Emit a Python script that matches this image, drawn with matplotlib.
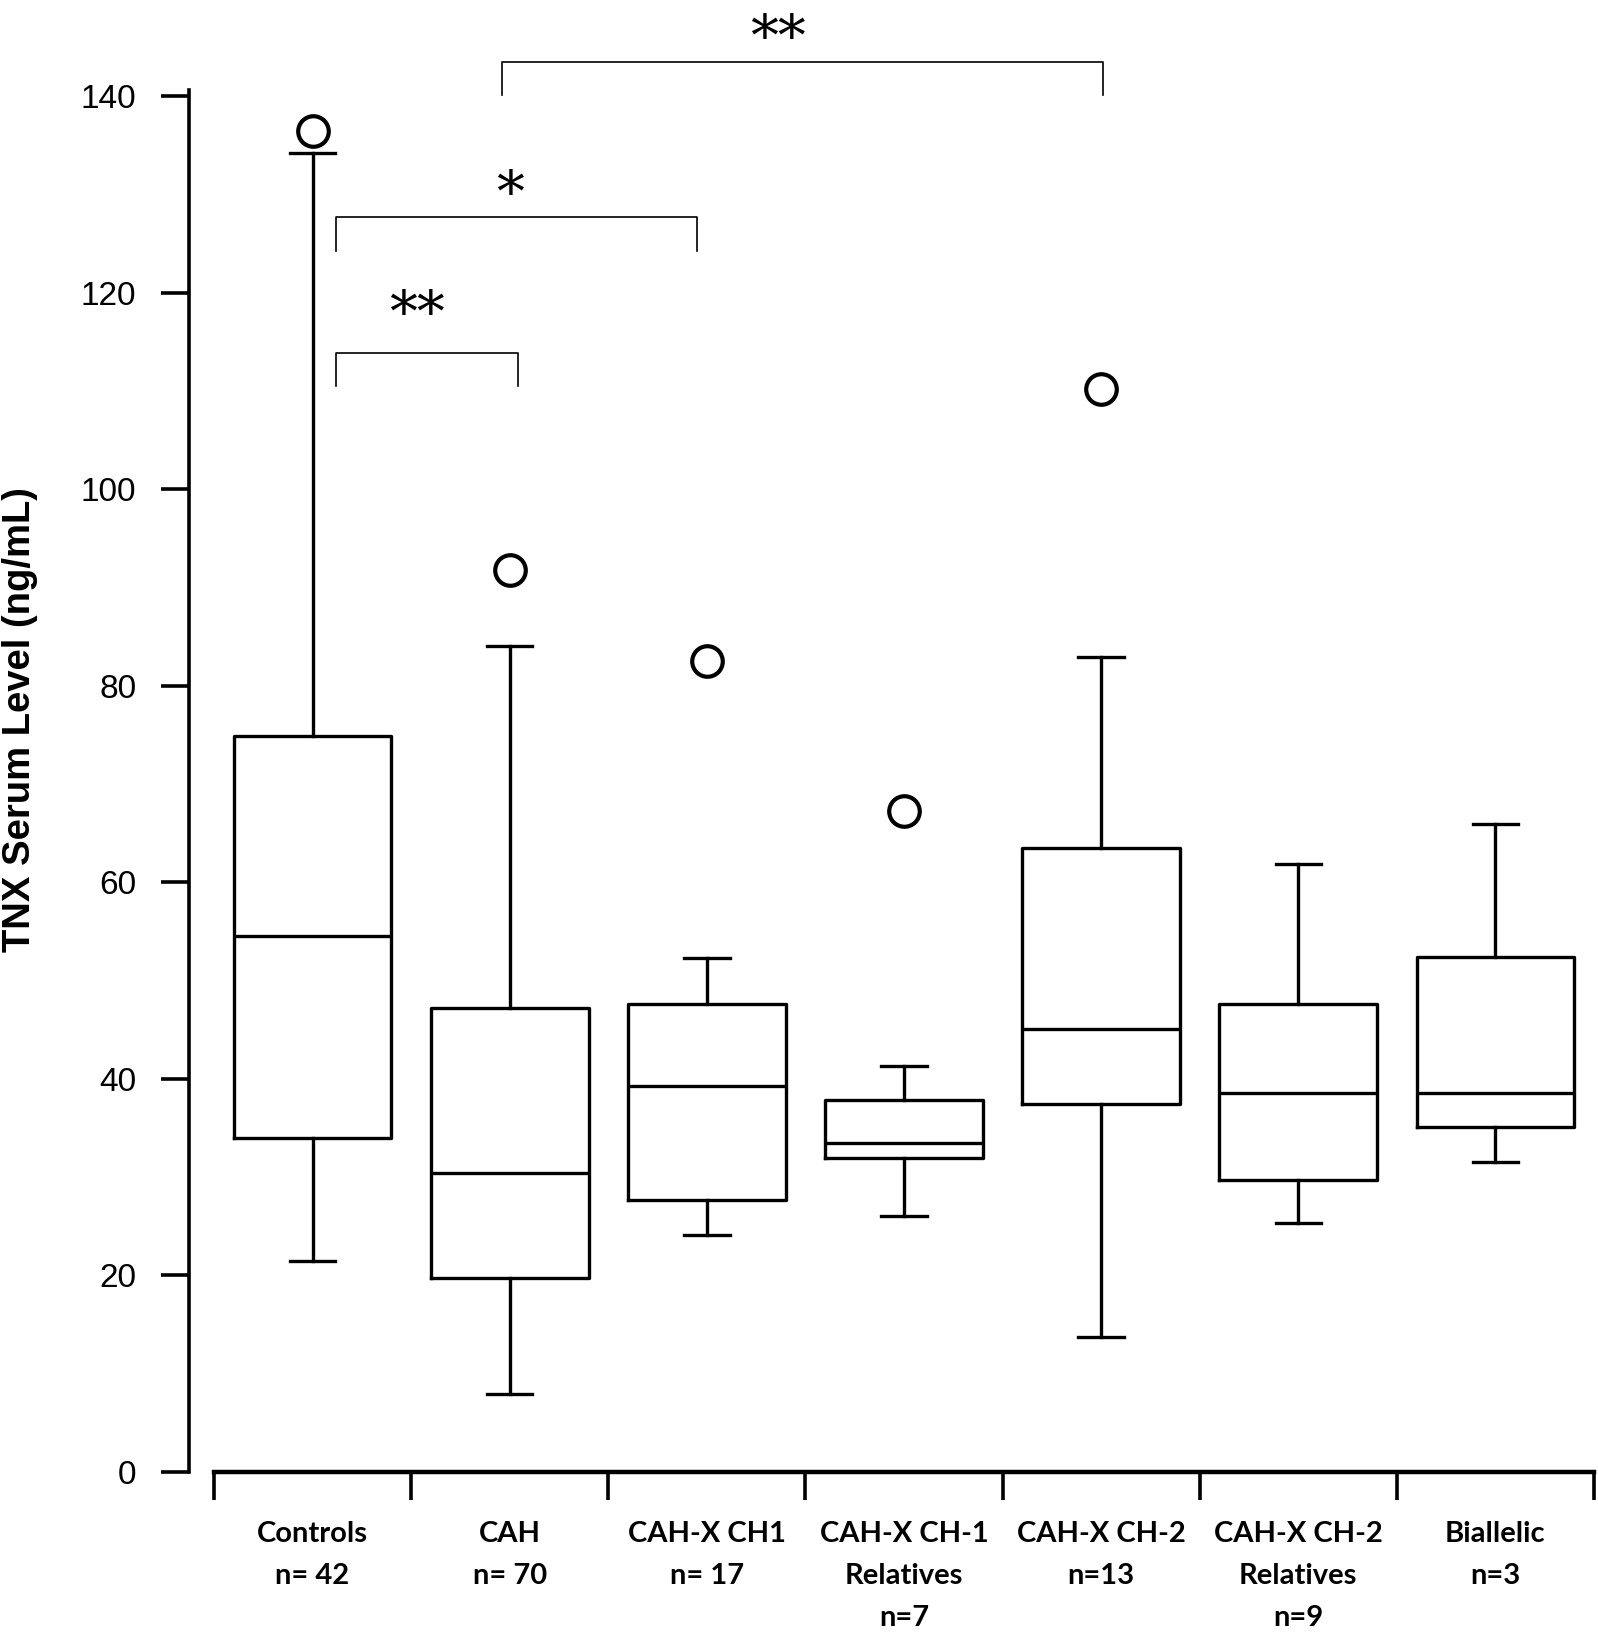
import numpy as np
import matplotlib
matplotlib.use("Agg")
import matplotlib.pyplot as plt

## ================= DATOS =================
groups = ["Controls\nn= 42", "CAH\nn= 70", "CAH-X CH1\nn= 17",
          "CAH-X CH-1\nRelatives\nn=7", "CAH-X CH-2\nn=13",
          "CAH-X CH-2\nRelatives\nn=9", "Biallelic\nn=3"]
whisker_low = [21.5, 7.9, 24.1, 26.1, 13.7, 25.3, 31.5]
q1 = [34.0, 19.7, 27.7, 32.0, 37.5, 29.7, 35.1]
median = [54.5, 30.4, 39.3, 33.5, 45.1, 38.6, 38.6]
q3 = [74.9, 47.2, 47.6, 37.9, 63.5, 47.6, 52.4]
whisker_high = [134.2, 84.1, 52.3, 41.3, 82.9, 61.9, 65.9]
outliers = [[136.5], [91.8], [82.5], [67.3], [110.2], [], []]

# comparaciones: (grupo inicio, grupo fin, altura barra, etiqueta)
bracket_x0 = [0.12, 0.12, 0.96]
bracket_x1 = [1.04, 1.95, 4.01]
bracket_y = [113.9, 127.7, 143.5]
bracket_text = ["**", "*", "**"]
bracket_text_x = [0.53, 1.0, 2.36]
bracket_text_y = [119.3, 131.5, 147.4]

yticks = [0, 20, 40, 60, 80, 100, 120, 140]

## ================= FIGURA =================
W, H = 1598, 1637
fig = plt.figure(figsize=(W / 100, H / 100), dpi=100)
ax = fig.add_axes([214 / W, 165 / H, 1380 / W, 1472 / H])

stats = []
for i in range(len(groups)):
    stats.append(dict(whislo=whisker_low[i], q1=q1[i], med=median[i],
                      q3=q3[i], whishi=whisker_high[i], fliers=outliers[i]))

lw = 2.4
ax.bxp(stats, positions=range(len(groups)), widths=0.8, capwidths=0.23,
       boxprops=dict(color="black", linewidth=lw),
       medianprops=dict(color="black", linewidth=lw),
       whiskerprops=dict(color="black", linewidth=lw),
       capprops=dict(color="black", linewidth=lw),
       flierprops=dict(marker="o", markersize=22, markerfacecolor="white",
                       markeredgecolor="black", markeredgewidth=3.0))

# barras de significancia
leg = 3.4
for x0, x1, yb, t, tx, ty in zip(bracket_x0, bracket_x1, bracket_y,
                                 bracket_text, bracket_text_x, bracket_text_y):
    ax.plot([x0, x0, x1, x1], [yb - leg, yb, yb, yb - leg],
            color="black", lw=1.2, clip_on=False)
    ax.text(tx, ty - 1.6, t, ha="center", va="center", fontsize=40,
            family="DejaVu Serif", clip_on=False)

## ================= EJES =================
ax.set_xlim(-0.5, len(groups) - 0.5)
ax.set_ylim(0, 149.8)
ax.spines[["top", "right"]].set_visible(False)
ax.spines["left"].set_position(("outward", 18))
ax.spines["left"].set_bounds(0, 140.6)
ax.spines["left"].set_linewidth(2.6)
ax.spines["bottom"].set_linewidth(3.2)

ax.set_yticks(yticks)
ax.set_yticklabels([str(v) for v in yticks], fontsize=24,
                   family="Liberation Sans")
ax.tick_params(axis="y", direction="out", length=20, width=2.6, pad=18)

ax.set_xticks(np.arange(-0.5, len(groups)), minor=False)
ax.set_xticklabels([])
ax.tick_params(axis="x", which="major", direction="out", length=20, width=2.6)
ax.set_xticks(range(len(groups)), minor=True)
ax.set_xticklabels(groups, minor=True, fontsize=21, family="Lato",
                   fontweight="bold", linespacing=1.78)
ax.tick_params(axis="x", which="minor", length=0, pad=35)

ax.set_ylabel("TNX Serum Level (ng/mL)", fontsize=27.5, fontweight="bold",
              family="Liberation Sans")
ax.yaxis.set_label_coords(-0.1275, 0.511)

fig.savefig("out.png", dpi=100)
